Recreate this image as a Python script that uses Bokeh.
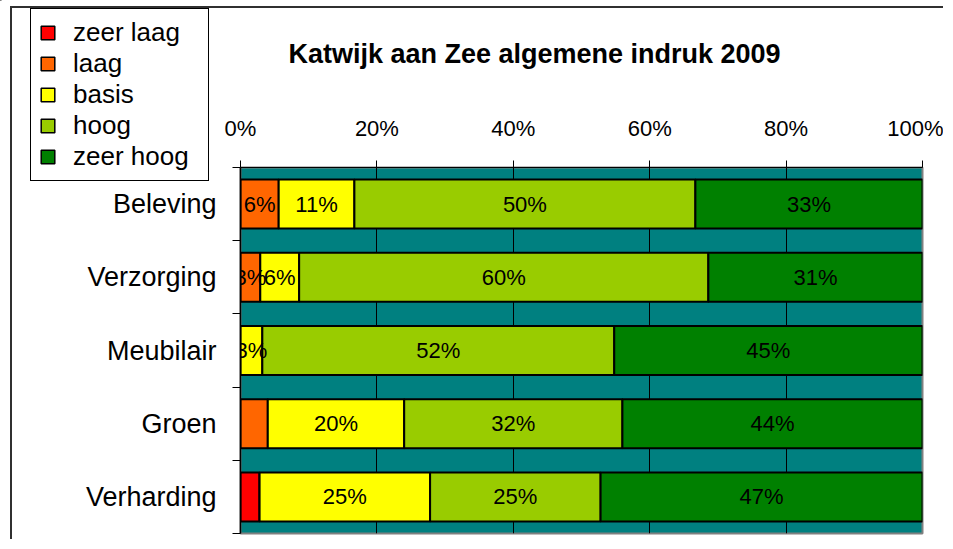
from bokeh.plotting import figure
from bokeh.models import (Range1d, FixedTicker, Legend, LegendItem, ColumnDataSource, Label, GridBox)
from bokeh.embed import file_html
from bokeh.resources import INLINE
from bokeh.core.properties import value

# ---- data ----
categories = ["Beleving", "Verzorging", "Meubilair", "Groen", "Verharding"]
series = ["zeer laag", "laag", "basis", "hoog", "zeer hoog"]
zeer_laag = [0.0, 0.0, 0.0, 0.0, 2.8]
laag = [5.6, 2.9, 0.0, 4.0, 0.0]
basis = [11.1, 5.7, 3.2, 20.0, 25.0]
hoog = [50.0, 60.0, 51.6, 32.0, 25.0]
zeer_hoog = [33.3, 31.4, 45.2, 44.0, 47.2]
labels_zeer_laag = ["", "", "", "", ""]
labels_laag = ["6%", "3%", "", "", ""]
labels_basis = ["11%", "6%", "3%", "20%", "25%"]
labels_hoog = ["50%", "60%", "52%", "32%", "25%"]
labels_zeer_hoog = ["33%", "31%", "45%", "44%", "47%"]
colors = ["#FF0000", "#FF6600", "#FFFF00", "#99CC00", "#008000"]
x_ticks = [0, 20, 40, 60, 80, 100]
x_tick_labels = ["0%", "20%", "40%", "60%", "80%", "100%"]
title_text = "Katwijk aan Zee algemene indruk 2009"

FONT = "Liberation Sans"
n = len(categories)

values = [zeer_laag, laag, basis, hoog, zeer_hoog]
labels = [labels_zeer_laag, labels_laag, labels_basis, labels_hoog, labels_zeer_hoog]

# category slot positions (first category on top)
y_pos = [n - i - 0.5 for i in range(n)]

data = {"y": y_pos}
for s, v in zip(series, values):
    data[s] = v
source = ColumnDataSource(data)

# ---------------- main chart ----------------
p = figure(width=933, height=533, output_backend="svg", toolbar_location=None,
           x_range=Range1d(0, 100), y_range=Range1d(0, n),
           x_axis_location="above", y_axis_location="left", title_location=None,
           min_border_left=228, min_border_right=23, min_border_top=159, min_border_bottom=8)
p.margin = (6, 0, 0, 10)
p.styles = {"border-top": "2px solid #303030", "border-left": "2px solid #303030"}

p.background_fill_color = "#008080"
p.border_fill_color = "white"
p.outline_line_color = "#808080"
p.outline_line_width = 2

renderers = p.hbar_stack(series, y="y", height=0.67, source=source,
                         fill_color=colors, line_color="black", line_width=2)

# segment labels
for i, (v, lab) in enumerate(zip(values, labels)):
    lefts = [sum(values[k][j] for k in range(i)) for j in range(n)]
    centers = [l + vv / 2 for l, vv in zip(lefts, v)]
    src = ColumnDataSource(dict(x=centers, y=y_pos, t=lab))
    p.text(x="x", y="y", text="t", source=src, text_align="center", text_baseline="middle",
           text_font=value(FONT), text_font_size="22px", text_color="black")

# x axis (top)
xa = p.xaxis[0]
xa.ticker = FixedTicker(ticks=x_ticks)
xa.major_label_overrides = {t: l for t, l in zip(x_ticks, x_tick_labels)}
xa.major_label_text_font = FONT
xa.major_label_text_font_size = "22px"
xa.major_label_text_color = "black"
xa.major_tick_out = 7
xa.major_tick_in = 0
xa.minor_tick_line_color = None
xa.axis_line_color = "black"
xa.major_label_standoff = 20

p.xgrid.ticker = FixedTicker(ticks=x_ticks[1:-1])
p.xgrid.grid_line_color = "black"
p.xgrid.grid_line_width = 1
p.ygrid.grid_line_color = None

# y axis: labels at slot centres, ticks at slot boundaries
ya = p.yaxis[0]
ya.ticker = FixedTicker(ticks=y_pos, minor_ticks=list(range(n + 1)))
ya.major_label_overrides = {yy: c for yy, c in zip(y_pos, categories)}
ya.major_tick_line_color = None
ya.minor_tick_line_color = "black"
ya.minor_tick_out = 8
ya.minor_tick_in = 0
ya.axis_line_color = "black"
ya.axis_line_width = 1.5
ya.major_label_text_font = FONT
ya.major_label_text_font_size = "27px"
ya.major_label_text_color = "black"
ya.major_label_standoff = 16

# ---------------- transparent overlay: title + legend ----------------
OW, OH = 945, 541
ov = figure(width=OW, height=OH, output_backend="svg", toolbar_location=None,
            x_range=Range1d(0, OW), y_range=Range1d(OH, 0),
            x_axis_location=None, y_axis_location=None, title_location=None, min_border=0)
ov.background_fill_color = None
ov.border_fill_color = None
ov.outline_line_color = None
ov.grid.grid_line_color = None

overlay_ok = True
try:
    ov.frame_align = False
    p.frame_align = False
except AttributeError:
    overlay_ok = False

if overlay_ok:
    # legend swatches: one zero-width bar each, placed outside the visible range
    legend_renderers = [ov.hbar(y=[-100], left=[0], right=[0], height=1, fill_color=c,
                                line_color="black", line_width=1.5) for c in colors]

    ov.add_layout(Label(x=534, y=53, text=title_text, text_align="center",
                        text_baseline="alphabetic", text_font=FONT, text_font_size="27px",
                        text_font_style="bold", text_color="black"))

    legend = Legend(items=[LegendItem(label=s, renderers=[r])
                           for s, r in zip(series, legend_renderers)],
                    location=(30, OH - 181), orientation="vertical",
                    label_text_font=FONT, label_text_font_size="26px",
                    label_text_color="black",
                    label_text_line_height=1.0, label_width=127,
                    glyph_width=17, glyph_height=17, label_standoff=17,
                    padding=8, spacing=-4, margin=0,
                    border_line_color="black", border_line_width=1, border_line_alpha=1,
                    background_fill_color="white", background_fill_alpha=1)
    ov.add_layout(legend, "center")
    root = GridBox(children=[(p, 0, 0), (ov, 0, 0)])
else:
    p.title_location = "above"
    p.title.text = title_text
    p.title.align = "left"
    p.title.offset = 49
    p.title.standoff = 80
    p.title.text_font = FONT
    p.title.text_font_size = "27px"
    p.title.text_font_style = "bold"
    root = p

open("out.html", "w").write(file_html(root, INLINE))
